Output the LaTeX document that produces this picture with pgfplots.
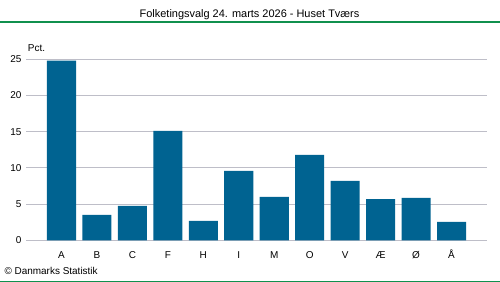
\documentclass[border=0pt]{standalone}
\usepackage{fontspec}
\setmainfont{Liberation Sans}
\usepackage{pgfplots}
\pgfplotsset{compat=1.18}
\definecolor{barblue}{HTML}{006391}
\definecolor{dstgreen}{HTML}{10904E}
\definecolor{gridgray}{HTML}{BEBEC8}
\begin{document}
\begin{tikzpicture}
\path[use as bounding box] (0,0) rectangle (500bp,282bp);
\node[font=\fontsize{11}{13}\selectfont] at (249.5bp,267bp) {Folketingsvalg 24. marts 2026 - Huset Tværs};
\draw[dstgreen, line width=1.1bp] (0,260bp) -- (500bp,260bp);
\draw[dstgreen, line width=1.2bp] (0,0.6bp) -- (500bp,0.6bp);
\node[anchor=west, font=\fontsize{10}{12}\selectfont] at (1bp,11bp) {© Danmarks Statistik};
\begin{axis}[
  at={(26bp,41.7bp)}, anchor=south west,
  scale only axis, width=461bp, height=181bp,
  xmin=-1, xmax=12, ymin=0, ymax=25,
  ytick={0,5,10,15,20,25},
  xtick={0,...,11},
  xticklabels={A,B,C,F,H,I,M,O,V,Æ,Ø,Å},
  axis line style={draw=none},
  major tick length=0pt,
  ymajorgrids, grid style={gridgray, line width=0.9bp},
  tick label style={font=\fontsize{10}{12}\selectfont},
  /pgf/number format/assume math mode=true,
  yticklabel style={xshift=-1bp},
  xticklabel style={anchor=base, yshift=-18.5bp},
  clip=false,
]
\addplot[ybar, bar width=0.82, fill=barblue, draw=none] coordinates {
(0,24.8) (1,3.5) (2,4.75) (3,15.1) (4,2.67) (5,9.6) (6,6.0) (7,11.8) (8,8.2) (9,5.7) (10,5.85) (11,2.53)};
\node[anchor=south west, font=\fontsize{10}{12}\selectfont, inner sep=0pt] at (axis cs:-0.95,26.1) {Pct.};
\end{axis}
\end{tikzpicture}
\end{document}
